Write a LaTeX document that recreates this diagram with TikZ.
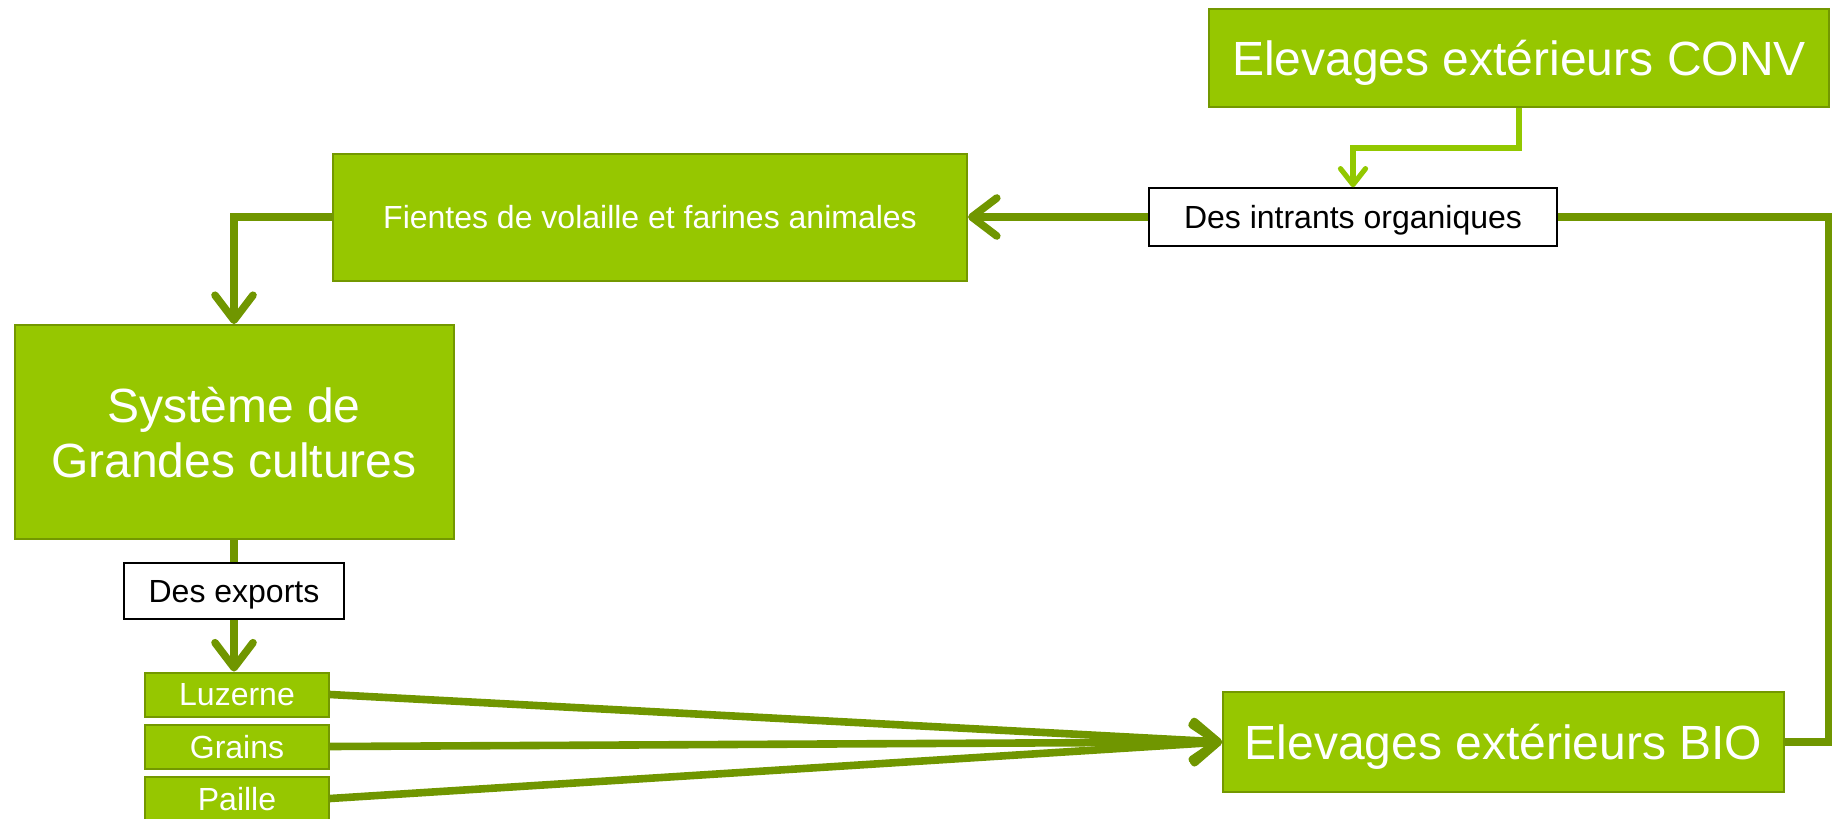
\documentclass[tikz,border=0pt]{standalone}
\usepackage{fontspec}
\setmainfont{Liberation Sans}
\usetikzlibrary{arrows.meta}
\definecolor{boxfill}{RGB}{150,199,0}
\definecolor{boxline}{RGB}{115,152,0}
\definecolor{conn}{RGB}{112,150,0}
\definecolor{lightconn}{RGB}{146,200,0}
\begin{document}
\begin{tikzpicture}[x=0.5pt,y=-0.5pt,
 gbox/.style={draw=boxline, line width=1pt, fill=boxfill, text=white, inner sep=0pt, align=center, text depth=0pt},
 wbox/.style={draw=black, line width=0.75pt, fill=white, text=black, inner sep=0pt, text depth=0pt, font=\fontsize{16}{18}\selectfont},
 big/.style={font=\fontsize{24}{27.5}\selectfont},
 small/.style={font=\fontsize{16}{18}\selectfont},
 darkarrow/.style={draw=conn, line width=3.8pt, -{Straight Barb[length=12.5pt,width=19pt,round]}},
 darkline/.style={draw=conn, line width=3.8pt},
 lightarrow/.style={draw=lightconn, line width=2.6pt, -{Straight Barb[length=8pt,width=12.5pt,round]}}]
\useasboundingbox (0,0) rectangle (1832,819);
\node[gbox,big,minimum width=310pt,minimum height=49pt] (conv) at (1519,58) {Elevages extérieurs CONV};
\node[gbox,small,minimum width=317pt,minimum height=63.5pt] (fien) at (650,217) {Fientes de volaille et farines animales};
\node[wbox,minimum width=204pt,minimum height=29pt] (intr) at (1353,217) {Des intrants organiques};
\node[gbox,big,minimum width=219.5pt,minimum height=107pt] (sys) at (234,432) {Système de\\Grandes cultures};
\node[wbox,minimum width=110pt,minimum height=28pt] (exp) at (234,591) {Des exports};
\node[gbox,small,minimum width=92pt,minimum height=22pt] (luz) at (237,694.5) {Luzerne};
\node[gbox,small,minimum width=92pt,minimum height=22pt] (gra) at (237,746.5) {Grains};
\node[gbox,small,minimum width=92pt,minimum height=22pt] (pai) at (237,798.5) {Paille};
\node[gbox,big,minimum width=280.5pt,minimum height=50pt] (bio) at (1503.5,742) {Elevages extérieurs BIO};
\coordinate (rc) at (1829,217);
\draw[lightarrow] (conv.south) -- ++(0,40) -| (intr.north);
\draw[darkarrow] (intr.west) -- (fien.east);
\draw[darkline] (intr.east) -- (rc) |- (bio.east);
\draw[darkarrow] (fien.west) -| (sys.north);
\draw[darkline] (sys.south) -- (exp.north);
\draw[darkarrow] (exp.south) -- (exp.south |- luz.north);
\draw[darkarrow] (luz.east) -- (bio.west);
\draw[darkarrow] (gra.east) -- (bio.west);
\draw[darkarrow] (pai.east) -- (bio.west);
\end{tikzpicture}
\end{document}
